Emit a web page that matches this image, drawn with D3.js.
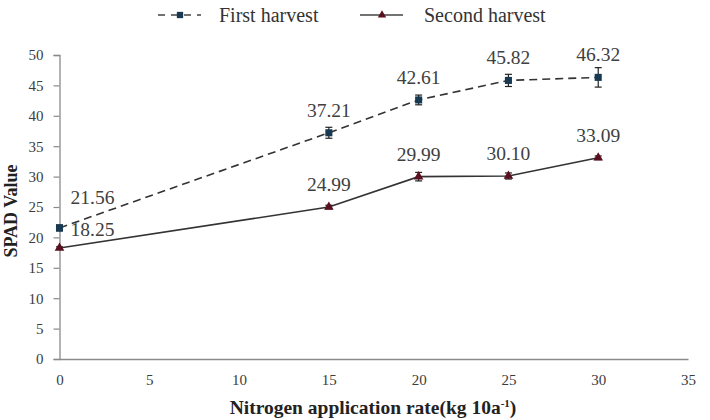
<!DOCTYPE html>
<html>
<head>
<meta charset="utf-8">
<script src="https://cdn.jsdelivr.net/npm/d3@7"></script>
<style>
  body { margin: 0; background: #fff; }
  svg, svg text { font-family: "Liberation Serif", "Times New Roman", serif; }
</style>
</head>
<body>
<div id="chart"></div>
<script>
const nitrogen = [0, 15, 20, 25, 30];
const firstHarvest = [21.56, 37.21, 42.61, 45.82, 46.32];
const firstErr = [0.5, 0.9, 0.8, 1.0, 1.6];
const secondHarvest = [18.25, 24.99, 29.99, 30.10, 33.09];
const secondErr = [0.2, 0.3, 0.7, 0.5, 0.3];
const xTicks = [0, 5, 10, 15, 20, 25, 30, 35];
const yTicks = [0, 5, 10, 15, 20, 25, 30, 35, 40, 45, 50];

const width = 710;
const height = 420;
const margin = {top: 55, right: 22, bottom: 61, left: 59.5};
const serif = "'Liberation Serif', 'Times New Roman', serif";

const svg = d3.select("#chart").append("svg")
    .attr("width", width)
    .attr("height", height);

const x = d3.scaleLinear().domain([0, 35]).range([margin.left, width - margin.right]);
const y = d3.scaleLinear().domain([0, 50]).range([height - margin.bottom, margin.top]);

// axes
const yAxis = svg.append("g")
    .attr("transform", `translate(${margin.left},0)`)
    .call(d3.axisLeft(y).tickValues(yTicks).tickSize(6).tickPadding(10));
const xAxis = svg.append("g")
    .attr("transform", `translate(0,${y(0)})`)
    .call(d3.axisBottom(x).tickValues(xTicks).tickSize(0).tickPadding(15));

[xAxis, yAxis].forEach(g => {
    g.attr("font-family", serif);
    g.select(".domain").attr("stroke", "#8a8a8a").attr("stroke-width", 1.3);
    g.selectAll(".tick line").attr("stroke", "#8a8a8a").attr("stroke-width", 1.2);
    g.selectAll(".tick text")
        .attr("fill", "#3c3c3c")
        .style("font-family", serif)
        .style("font-size", "15px");
});

// axis titles
svg.append("text")
    .attr("x", 373)
    .attr("y", 414)
    .attr("text-anchor", "middle")
    .attr("font-weight", "bold")
    .attr("font-size", 19.5)
    .attr("fill", "#222")
    .style("font-family", serif)
    .html('Nitrogen application rate(kg 10a<tspan dy="-7" font-size="11">-1</tspan><tspan dy="7">)</tspan>');

svg.append("text")
    .attr("transform", `translate(17,${(y(0) + y(50)) / 2 + 4}) rotate(-90)`)
    .attr("text-anchor", "middle")
    .attr("font-weight", "bold")
    .attr("font-size", 18)
    .attr("fill", "#222")
    .style("font-family", serif)
    .text("SPAD Value");

const series = [
    {name: "First harvest", values: firstHarvest, err: firstErr, color: "#173a52", dash: "8,5", symbol: d3.symbolSquare},
    {name: "Second harvest", values: secondHarvest, err: secondErr, color: "#5a0f1e", dash: null, symbol: d3.symbolTriangle}
];

const line = d3.line()
    .x(d => x(d[0]))
    .y(d => y(d[1]));

series.forEach(s => {
    const pts = nitrogen.map((n, i) => [n, s.values[i], s.err[i]]);
    const g = svg.append("g");

    g.append("path")
        .datum(pts)
        .attr("fill", "none")
        .attr("stroke", "#333")
        .attr("stroke-width", 1.6)
        .attr("stroke-dasharray", s.dash)
        .attr("d", line);

    // error bars
    const eb = g.selectAll(".err").data(pts).enter().append("g");
    eb.append("line")
        .attr("x1", d => x(d[0])).attr("x2", d => x(d[0]))
        .attr("y1", d => y(d[1] - d[2])).attr("y2", d => y(d[1] + d[2]))
        .attr("stroke", "#222").attr("stroke-width", 1.2);
    [-1, 1].forEach(sign => {
        eb.append("line")
            .attr("x1", d => x(d[0]) - 3.5).attr("x2", d => x(d[0]) + 3.5)
            .attr("y1", d => y(d[1] + sign * d[2])).attr("y2", d => y(d[1] + sign * d[2]))
            .attr("stroke", "#222").attr("stroke-width", 1.2);
    });

    g.selectAll(".mark").data(pts).enter().append("path")
        .attr("transform", d => `translate(${x(d[0])},${y(d[1])})`)
        .attr("d", d3.symbol().type(s.symbol).size(s.symbol === d3.symbolSquare ? 50 : 40))
        .attr("fill", s.color);

    // data labels
    g.selectAll(".lbl").data(pts).enter().append("text")
        .attr("x", d => x(d[0]) + (d[0] === 0 ? 33 : 0))
        .attr("y", d => y(d[1]) - (d[0] === 0 ? (s.symbol === d3.symbolSquare ? 24 : 12) : 16))
        .attr("text-anchor", "middle")
        .attr("font-size", 19.5)
        .attr("fill", "#404040")
        .style("font-family", serif)
        .text(d => d[1].toFixed(2));
});

// legend
const legendItems = [
    {s: series[0], lx: 158, tx: 219},
    {s: series[1], lx: 360, tx: 424}
];
legendItems.forEach(it => {
    const lg = svg.append("g");
    lg.append("line")
        .attr("x1", it.lx).attr("x2", it.lx + 43)
        .attr("y1", 15).attr("y2", 15)
        .attr("stroke", "#444").attr("stroke-width", 1.6)
        .attr("stroke-dasharray", it.s.dash ? "7,6" : null);
    lg.append("path")
        .attr("transform", `translate(${it.lx + 22},15)`)
        .attr("d", d3.symbol().type(it.s.symbol).size(it.s.symbol === d3.symbolSquare ? 40 : 30))
        .attr("fill", it.s.color);
    lg.append("text")
        .attr("x", it.tx).attr("y", 22)
        .attr("font-size", 20)
        .attr("fill", "#333")
        .style("font-family", serif)
        .text(it.s.name);
});
</script>
</body>
</html>
